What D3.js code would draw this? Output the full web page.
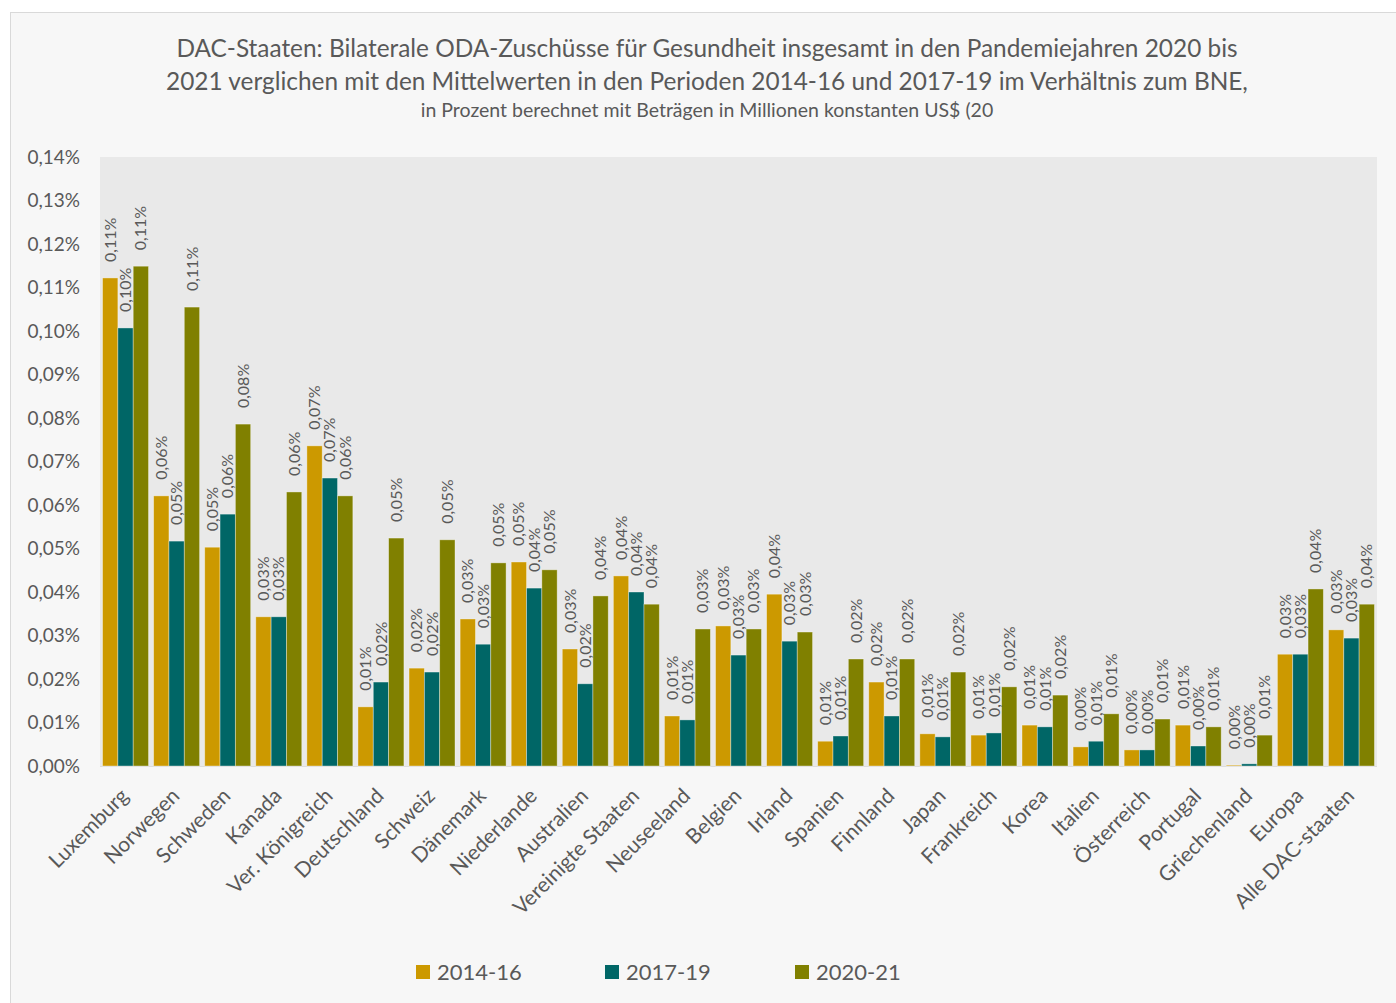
<!doctype html>
<meta charset="utf-8">
<title>DAC-Staaten ODA Gesundheit</title>
<script src="https://cdn.jsdelivr.net/npm/d3@7"></script>
<style>
  body { margin: 0; background: #fff; }
  text { font-family: Lato, "Open Sans", sans-serif; fill: #595959; }
</style>
<body>
<script>
// categories and series (values in percent of GNI)
var countries = ['Luxemburg', 'Norwegen', 'Schweden', 'Kanada', 'Ver. Königreich', 'Deutschland',
  'Schweiz', 'Dänemark', 'Niederlande', 'Australien', 'Vereinigte Staaten', 'Neuseeland',
  'Belgien', 'Irland', 'Spanien', 'Finnland', 'Japan', 'Frankreich', 'Korea', 'Italien',
  'Österreich', 'Portugal', 'Griechenland', 'Europa', 'Alle DAC-staaten'];

var p2014_16 = [0.1122, 0.0621, 0.0503, 0.0343, 0.0736, 0.0136, 0.0225, 0.0338, 0.0469, 0.0269,
  0.0437, 0.0115, 0.0322, 0.0395, 0.0057, 0.0193, 0.0074, 0.0071, 0.0094, 0.0044,
  0.0037, 0.0094, 0.0002, 0.0257, 0.0313];
var p2017_19 = [0.1007, 0.0517, 0.0579, 0.0343, 0.0662, 0.0193, 0.0216, 0.0280, 0.0409, 0.0189,
  0.0400, 0.0106, 0.0255, 0.0287, 0.0069, 0.0115, 0.0067, 0.0076, 0.0090, 0.0057,
  0.0037, 0.0046, 0.0005, 0.0257, 0.0294];
var p2020_21 = [0.1149, 0.1055, 0.0786, 0.0630, 0.0621, 0.0524, 0.0520, 0.0467, 0.0451, 0.0391,
  0.0372, 0.0315, 0.0315, 0.0308, 0.0246, 0.0246, 0.0216, 0.0182, 0.0163, 0.0120,
  0.0108, 0.0090, 0.0071, 0.0407, 0.0372];

var seriesNames = ['2014-16', '2017-19', '2020-21'];
var colors = ['#cc9900', '#006666', '#808000'];
var yTicks = [0, 0.01, 0.02, 0.03, 0.04, 0.05, 0.06, 0.07, 0.08, 0.09, 0.10, 0.11, 0.12, 0.13, 0.14];

var titleLines = [
  'DAC-Staaten: Bilaterale ODA-Zuschüsse für Gesundheit insgesamt in den Pandemiejahren 2020 bis',
  '2021 verglichen mit den Mittelwerten in den Perioden 2014-16 und 2017-19 im Verhältnis zum BNE,'
];
var subtitle = 'in Prozent berechnet mit Beträgen in Millionen konstanten US$ (20';

var width = 1396, height = 1003;
var plot = { left: 100, right: 1377, top: 157, bottom: 766 };

var fmt = function(v) { return v.toFixed(2).replace('.', ',') + '%'; };

var svg = d3.select('body').append('svg')
  .attr('width', width)
  .attr('height', height);

// chart area box
svg.append('rect')
  .attr('x', 10.5).attr('y', 12.5)
  .attr('width', width).attr('height', height)
  .attr('fill', '#f7f7f7')
  .attr('stroke', '#d9d9d9');

// title
svg.selectAll('.title').data(titleLines).enter().append('text')
  .attr('class', 'title')
  .attr('x', 707)
  .attr('y', function(d, i) { return 57 + i * 33; })
  .attr('text-anchor', 'middle')
  .style('font-size', '24.4px')
  .text(function(d) { return d; });

svg.append('text')
  .attr('x', 707).attr('y', 117)
  .attr('text-anchor', 'middle')
  .style('font-size', '19.5px')
  .text(subtitle);

// plot background
svg.append('rect')
  .attr('x', plot.left).attr('y', plot.top)
  .attr('width', plot.right - plot.left)
  .attr('height', plot.bottom - plot.top)
  .attr('fill', '#e9e9e9');

var x0 = d3.scaleBand()
  .domain(countries)
  .range([plot.left, plot.right])
  .paddingInner(0.1)
  .paddingOuter(0.05);

var x1 = d3.scaleBand()
  .domain(d3.range(3))
  .range([0, x0.bandwidth()]);

var y = d3.scaleLinear()
  .domain([0, 0.14])
  .range([plot.bottom, plot.top]);

// y axis
var yAxis = svg.append('g')
  .attr('transform', 'translate(' + plot.left + ',0)')
  .call(d3.axisLeft(y).tickValues(yTicks).tickFormat(fmt).tickSize(0).tickPadding(20));
yAxis.select('.domain').remove();
yAxis.selectAll('text')
  .style('font-size', '19px')
  .style('font-family', 'Lato, "Open Sans", sans-serif')
  .attr('fill', '#595959');

// x axis line
svg.append('line')
  .attr('x1', plot.left).attr('x2', plot.right)
  .attr('y1', plot.bottom + 0.5).attr('y2', plot.bottom + 0.5)
  .attr('stroke', '#dcdcdc');

var series = [p2014_16, p2017_19, p2020_21];
var rows = countries.map(function(c, i) {
  return { name: c, values: series.map(function(s) { return s[i]; }) };
});

var groups = svg.selectAll('.grp').data(rows).enter().append('g')
  .attr('class', 'grp')
  .attr('transform', function(d) { return 'translate(' + x0(d.name) + ',0)'; });

groups.selectAll('rect').data(function(d) { return d.values; }).enter().append('rect')
  .attr('x', function(d, i) { return x1(i); })
  .attr('y', function(d) { return y(d); })
  .attr('width', x1.bandwidth())
  .attr('height', function(d) { return plot.bottom - y(d); })
  .attr('fill', function(d, i) { return colors[i]; })
  .attr('stroke', 'rgba(255,255,255,0.45)')
  .attr('stroke-width', 0.8);

// value labels, rotated
groups.selectAll('.lbl').data(function(d) { return d.values; }).enter().append('text')
  .attr('class', 'lbl')
  .attr('transform', function(d, i) {
    return 'translate(' + (x1(i) + x1.bandwidth() / 2) + ',' + (y(d) - 16) + ') rotate(-90)';
  })
  .attr('dy', '0.35em')
  .attr('text-anchor', 'start')
  .style('font-size', '16px')
  .text(fmt);

// category labels
svg.selectAll('.cat').data(countries).enter().append('text')
  .attr('class', 'cat')
  .attr('transform', function(d) {
    return 'translate(' + (x0(d) + x0.bandwidth() / 2 - 1) + ',792) rotate(-45)';
  })
  .attr('text-anchor', 'end')
  .attr('dy', '0.35em')
  .style('font-size', '21px')
  .text(function(d) { return d; });

// legend
var legendX = [416, 605, 795];
var legend = svg.selectAll('.leg').data(seriesNames).enter().append('g')
  .attr('class', 'leg')
  .attr('transform', function(d, i) { return 'translate(' + legendX[i] + ',965)'; });
legend.append('rect')
  .attr('width', 14).attr('height', 14)
  .attr('fill', function(d, i) { return colors[i]; });
legend.append('text')
  .attr('x', 21).attr('y', 15)
  .style('font-size', '22px')
  .text(function(d) { return d; });
</script>
</body>
